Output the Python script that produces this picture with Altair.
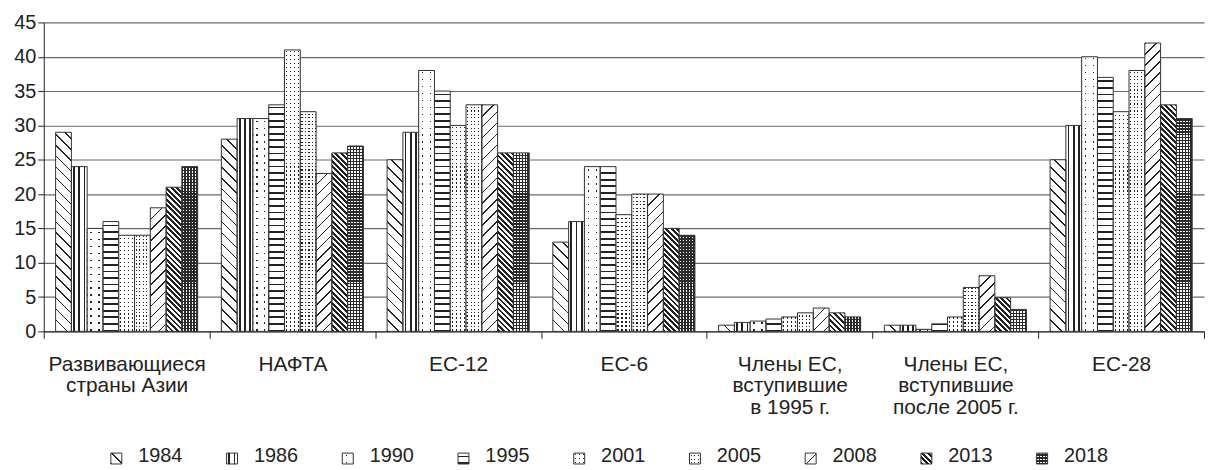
import math
import altair as alt

# ---------------- data ----------------
categories = [
    "Развивающиеся\nстраны Азии",
    "НАФТА",
    "ЕС-12",
    "ЕС-6",
    "Члены ЕС,\nвступившие\nв 1995 г.",
    "Члены ЕС,\nвступившие\nпосле 2005 г.",
    "ЕС-28",
]
years = ["1984", "1986", "1990", "1995", "2001", "2005", "2008", "2013", "2018"]

v1984 = [29, 28, 25, 13, 0.9, 0.9, 25]
v1986 = [24, 31, 29, 16, 1.3, 0.9, 30]
v1990 = [15, 31, 38, 24, 1.5, 0.3, 40]
v1995 = [16, 33, 35, 24, 1.8, 1.1, 37]
v2001 = [14, 41, 30, 17, 2.1, 2.1, 32]
v2005 = [14, 32, 33, 20, 2.7, 6.4, 38]
v2008 = [18, 23, 33, 20, 3.4, 8.1, 42]
v2013 = [21, 26, 26, 15, 2.7, 4.9, 33]
v2018 = [24, 27, 26, 14, 2.1, 3.2, 31]
series = {
    "1984": v1984, "1986": v1986, "1990": v1990, "1995": v1995, "2001": v2001,
    "2005": v2005, "2008": v2008, "2013": v2013, "2018": v2018,
}

# ---------------- layout / style ----------------
FONT = "Liberation Sans"
PLOT_W = 1168
PLOT_H = 311
YMAX = 45
PAD_OUT = 0.75
CAT_W = PLOT_W / len(categories)
BAR_W = CAT_W / (len(years) + 2 * PAD_OUT)
INK = "#222222"
PAPER = "#ffffff"
CLEAR = "rgba(255,255,255,0)"

PATTERNS = {
    "1984": ("diag_down", dict(period=11.0, thick=1.5)),
    "1986": ("vert", dict(period=BAR_W / 3, thick=1.7)),
    "1990": ("dots", dict(px=BAR_W / 2, py=7.0, d=1.4, dot=INK, bg=PAPER)),
    "1995": ("horiz", dict(period=6.6, thick=1.8)),
    "2001": ("dots", dict(px=4.0, py=4.0, d=1.2, dot=INK, bg=PAPER)),
    "2005": ("dots", dict(px=3.5, py=3.5, d=1.2, dot=INK, bg=PAPER)),
    "2008": ("diag_up", dict(period=11.0, thick=1.5)),
    "2013": ("diag_down", dict(period=5.5, thick=2.8)),
    "2018": ("dots", dict(px=3.0, py=3.0, d=1.4, dot=PAPER, bg="#2a2a2a")),
}


def band_stops(extent, period, thick, phase, c_on, c_off):
    if extent <= 0:
        return [{"offset": 0, "color": c_off}, {"offset": 1, "color": c_off}]
    stops = [{"offset": 0, "color": c_off}]
    k = math.floor((0 - phase) / period)
    a = phase + k * period
    while a < extent:
        lo = max(a, 0.0)
        hi = min(a + thick, extent)
        if hi > lo:
            o1 = round(lo / extent, 5)
            o2 = round(hi / extent, 5)
            stops += [
                {"offset": o1, "color": c_off},
                {"offset": o1, "color": c_on},
                {"offset": o2, "color": c_on},
                {"offset": o2, "color": c_off},
            ]
        a += period
    stops.append({"offset": 1, "color": c_off})
    return stops


def grad(x1, y1, x2, y2, stops):
    return {"gradient": "linear", "x1": x1, "y1": y1, "x2": x2, "y2": y2, "stops": stops}


def make_fills(year, w, h):
    kind, p = PATTERNS[year]
    h = max(h, 0.01)
    if kind == "diag_down":
        s = (w + h) / (w * w + h * h)
        g = grad(0, 1, s * w, 1 - s * h, band_stops(w + h, p["period"], p["thick"], 0, INK, PAPER))
        return g, "transparent", "transparent"
    if kind == "diag_up":
        s = (w + h) / (w * w + h * h)
        g = grad(0, 0, s * w, s * h, band_stops(w + h, p["period"], p["thick"], 0, INK, PAPER))
        return g, "transparent", "transparent"
    if kind == "vert":
        ph = p["period"] / 2 - p["thick"] / 2
        g = grad(0, 0, 1, 0, band_stops(w, p["period"], p["thick"], ph, INK, PAPER))
        return g, "transparent", "transparent"
    if kind == "horiz":
        ph = (h % p["period"]) - p["thick"]
        g = grad(0, 0, 0, 1, band_stops(h, p["period"], p["thick"], ph, INK, PAPER))
        return g, "transparent", "transparent"
    # dots: base colour + two masks
    phx = p["px"] / 2 - p["d"] / 2
    phy = (h % p["py"]) - p["d"] - 0.8
    m1 = grad(0, 0, 1, 0, band_stops(w, p["px"], p["d"], phx, CLEAR, p["bg"]))
    m2 = grad(0, 0, 0, 1, band_stops(h, p["py"], p["d"], phy, CLEAR, p["bg"]))
    return p["dot"], m1, m2


records = []
for ci, cat in enumerate(categories):
    for yr in years:
        val = series[yr][ci]
        f1, f2, f3 = make_fills(yr, BAR_W, val / YMAX * PLOT_H)
        records.append({"cat": cat, "year": yr, "value": val, "f1": f1, "f2": f2, "f3": f3})

SYM = 11
leg_records = []
for yr in years:
    f1, f2, f3 = make_fills(yr, SYM, SYM)
    leg_records.append({"year": yr, "f1": f1, "f2": f2, "f3": f3})

# ---------------- main chart ----------------
base = alt.Chart(alt.Data(values=records)).encode(
    x=alt.X(
        "cat:N",
        sort=categories,
        scale=alt.Scale(paddingInner=0, paddingOuter=0),
        axis=alt.Axis(
            title=None,
            labelAngle=0,
            tickBand="extent",
            labelExpr="split(datum.label, '\\n')",
            labelFont=FONT,
            labelFontSize=21,
            labelLineHeight=22,
            labelPadding=15,
            labelLimit=400,
            labelColor=INK,
            tickSize=7,
            tickColor=INK,
            domainColor=INK,
            grid=False,
        ),
    ),
    xOffset=alt.XOffset("year:N", sort=years, scale=alt.Scale(paddingInner=0, paddingOuter=PAD_OUT)),
    y=alt.Y(
        "value:Q",
        stack=None,
        scale=alt.Scale(domain=[0, YMAX], nice=False),
        axis=alt.Axis(
            title=None,
            values=list(range(0, 50, 5)),
            grid=True,
            gridColor="#6a6a6a",
            gridWidth=1.2,
            tickSize=6,
            tickColor=INK,
            domainColor=INK,
            labelFont=FONT,
            labelFontSize=20,
            labelPadding=2,
            labelColor=INK,
        ),
    ),
)

l1 = base.mark_bar().encode(fill=alt.Fill("f1:N", scale=None))
l2 = base.mark_bar().encode(fill=alt.Fill("f2:N", scale=None))
l3 = base.mark_bar(stroke="#333333", strokeWidth=1).encode(fill=alt.Fill("f3:N", scale=None))
main = alt.layer(l1, l2, l3).properties(
    width=PLOT_W, height=PLOT_H,
    view=alt.ViewBackground(fill="transparent", stroke="transparent", strokeWidth=0),
)

# ---------------- legend ----------------
LEG_STEP = 116.5
LEG_PAD = 0.627
lbase = alt.Chart(alt.Data(values=leg_records)).encode(
    x=alt.X("year:N", sort=years, scale=alt.Scale(type="point", padding=LEG_PAD), axis=None)
)
s1 = lbase.mark_square(size=SYM * SYM, opacity=1).encode(fill=alt.Fill("f1:N", scale=None))
s2 = lbase.mark_square(size=SYM * SYM, opacity=1).encode(fill=alt.Fill("f2:N", scale=None))
s3 = lbase.mark_square(size=SYM * SYM, opacity=1, stroke="#333333", strokeWidth=1).encode(
    fill=alt.Fill("f3:N", scale=None)
)
txt = lbase.mark_text(align="left", dx=22, dy=-2, font=FONT, fontSize=20, color=INK).encode(text="year:N")
legend = alt.layer(s1, s2, s3, txt).properties(
    width=LEG_STEP * (len(years) - 1 + 2 * LEG_PAD),
    height=14,
    view=alt.ViewBackground(fill="white", stroke="transparent", strokeWidth=0),
)

chart = (
    alt.vconcat(main, legend, spacing=29)
    .properties(padding={"left": 5, "top": 3, "right": 0, "bottom": 0})
    .configure_view(stroke=None, strokeWidth=0)
    .configure(font=FONT)
)

chart.save("out.html", embed_options={"renderer": "svg", "actions": False})
